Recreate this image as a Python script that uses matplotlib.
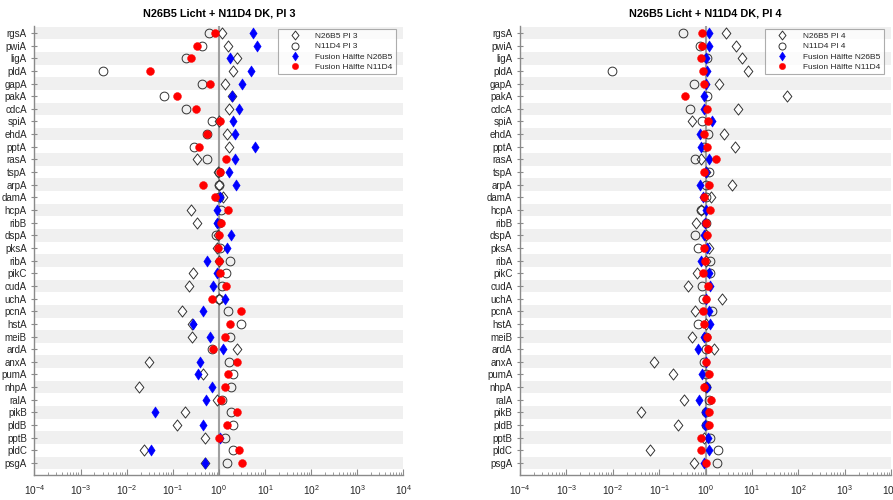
import matplotlib
matplotlib.use("Agg")
import matplotlib.pyplot as plt
from matplotlib.path import Path
import numpy as np

plt.rcParams["font.family"] = ["Liberation Sans", "DejaVu Sans"]
plt.rcParams["mathtext.fontset"] = "custom"
plt.rcParams["mathtext.rm"] = "Liberation Sans"
plt.rcParams["mathtext.it"] = "Liberation Sans:italic"

genes = ["rgsA", "pwiA", "ligA", "pldA", "gapA", "pakA", "cdcA", "spiA",
         "ehdA", "pptA", "rasA", "tspA", "arpA", "damA", "hcpA", "ribB",
         "dspA", "pksA", "ribA", "pikC", "cudA", "uchA", "pcnA", "hstA",
         "meiB", "ardA", "anxA", "pumA", "nhpA", "ralA", "pikB", "pldB",
         "pptB", "pldC", "psgA"]

# Pl 3
pl3_n26b5 = [1.17, 1.58, 2.5, 2.0, 1.38, 1.9, 1.69, 1.0, 1.48, 1.64, 0.34,
             0.93, 1.0, 1.25, 0.25, 0.34, 0.95, 0.9, 1.0, 0.28, 0.22, 1.0,
             0.155, 0.26, 0.26, 2.44, 0.031, 0.45, 0.0185, 0.9, 0.18, 0.126,
             0.51, 0.024, 0.49]
pl3_n11d4 = [0.62, 0.43, 0.19, 0.0031, 0.42, 0.065, 0.19, 0.71, 0.55, 0.29,
             0.56, 1.0, 1.0, 1.0, 1.1, 1.0, 0.87, 1.03, 1.75, 1.43, 1.17, 1.0,
             1.58, 2.97, 1.75, 0.69, 1.64, 2.06, 1.8, 1.15, 1.8, 2.0, 1.34,
             2.0, 1.53]
pl3_fus_n26b5 = [5.6, 6.6, 1.75, 5.0, 3.2, 1.93, 2.7, 2.0, 2.2, 6.0, 2.2,
                 1.64, 2.36, 1.06, 0.9, 0.9, 1.8, 1.48, 0.55, 0.9, 0.76, 1.38,
                 0.45, 0.28, 0.65, 1.25, 0.38, 0.355, 0.69, 0.53, 0.041, 0.46,
                 1.06, 0.034, 0.49]
pl3_fus_n11d4 = [0.84, 0.34, 0.25, 0.032, 0.65, 0.123, 0.31, 1.06, 0.55, 0.37,
                 1.43, 1.03, 0.45, 0.81, 1.58, 1.13, 1.0, 0.93, 1.0, 1.06,
                 1.43, 0.71, 2.97, 1.75, 1.34, 0.76, 2.5, 1.58, 1.34, 1.1, 2.5,
                 1.53, 1.0, 2.7, 3.2]

# Pl 4
pl4_n26b5 = [2.75, 4.5, 6.1, 8.2, 1.97, 57, 5.1, 0.52, 2.5, 4.4, 0.81, 1.0,
             3.7, 1.32, 0.78, 0.62, 1.0, 1.16, 1.0, 0.64, 0.42, 2.25, 0.58,
             1.0, 0.51, 1.56, 0.077, 0.195, 1.0, 0.35, 0.041, 0.25, 0.92,
             0.063, 0.56]
pl4_n11d4 = [0.33, 0.76, 1.08, 0.0096, 0.56, 1.08, 0.46, 0.86, 1.12, 0.95,
             0.6, 1.16, 1.0, 1.0, 0.78, 1.0, 0.6, 0.68, 1.28, 1.28, 0.86, 0.89,
             1.37, 0.7, 1.0, 1.0, 0.92, 1.0, 1.0, 1.2, 1.0, 1.0, 1.28, 1.9,
             1.73]
pl4_fus_n26b5 = [1.16, 1.16, 1.0, 1.08, 1.05, 0.92, 0.92, 1.37, 0.75, 0.81,
                 1.2, 1.0, 0.75, 0.89, 1.0, 0.98, 0.95, 1.08, 0.81, 1.16, 1.24,
                 1.0, 1.16, 1.24, 0.92, 0.68, 1.0, 0.83, 1.08, 0.71, 0.98,
                 0.98, 1.12, 1.2, 0.92]
pl4_fus_n11d4 = [0.86, 0.86, 0.78, 0.89, 0.95, 0.36, 1.08, 1.12, 0.92, 1.08,
                 1.67, 0.95, 1.16, 0.95, 1.24, 1.05, 1.08, 0.95, 0.98, 0.89,
                 1.12, 1.0, 0.89, 0.95, 1.08, 1.12, 1.0, 1.2, 0.95, 1.32, 1.16,
                 1.16, 0.81, 0.81, 1.05]

panels = [
    ("N26B5 Licht + N11D4 DK, Pl 3", "Pl 3",
     pl3_n26b5, pl3_n11d4, pl3_fus_n26b5, pl3_fus_n11d4),
    ("N26B5 Licht + N11D4 DK, Pl 4", "Pl 4",
     pl4_n26b5, pl4_n11d4, pl4_fus_n26b5, pl4_fus_n11d4),
]


def diamond(ratio):
    # diamond marker, width = ratio * height
    return Path([(0, 1), (ratio, 0), (0, -1), (-ratio, 0), (0, 1)],
                [Path.MOVETO, Path.LINETO, Path.LINETO, Path.LINETO,
                 Path.CLOSEPOLY])


OPEN_D = diamond(0.78)
FILL_D = diamond(0.66)

AX_GREY = "#8a8a8a"
TXT = "#262626"

fig = plt.figure(figsize=(8.93, 5.0), dpi=100)
rects = [[0.0386, 0.05, 0.4132, 0.898], [0.5823, 0.05, 0.4155, 0.898]]

ypos = np.arange(1, len(genes) + 1)

for rect, (title, pl, n26, n11, f26, f11) in zip(rects, panels):
    ax = fig.add_axes(rect)
    # alternating row shading
    for i in ypos[::2]:
        ax.axhspan(i - 0.5, i + 0.5, color="#f0f0f0", lw=0, zorder=0)
    ax.axvline(1, color="#a0a0a0", lw=1.5, zorder=1)

    ax.plot(n26, ypos, ls="none", marker=OPEN_D, ms=8, mfc="white",
            mec="#333333", mew=0.7, zorder=2, label=f"N26B5 {pl}")
    ax.plot(n11, ypos, ls="none", marker="o", ms=6.3, mfc="none",
            mec="#333333", mew=0.7, zorder=3, label=f"N11D4 {pl}")
    ax.plot(f26, ypos, ls="none", marker=FILL_D, ms=8, mfc="blue",
            mec="blue", mew=0.4, zorder=4, label="Fusion Hälfte N26B5")
    ax.plot(f11, ypos, ls="none", marker="o", ms=5.7, mfc="red",
            mec="red", mew=0.3, zorder=5, label="Fusion Hälfte N11D4")

    ax.set_xscale("log")
    ax.set_xlim(1e-4, 1e4)
    ax.set_ylim(35.95, 0.45)
    ax.set_yticks(ypos)
    ax.set_yticklabels(genes)
    ax.set_xticks([10.0 ** k for k in range(-4, 5)])
    ax.xaxis.set_minor_locator(matplotlib.ticker.LogLocator(
        base=10, subs=np.arange(2, 10), numticks=20))

    for side in ("top", "right"):
        ax.spines[side].set_visible(False)
    for side in ("left", "bottom"):
        ax.spines[side].set_color(AX_GREY)
        ax.spines[side].set_linewidth(1.0)
    ax.tick_params(axis="x", which="major", direction="in", length=4,
                   color=AX_GREY, labelsize=7.3, labelcolor=TXT, pad=6)
    ax.tick_params(axis="x", which="minor", direction="in", length=2.2,
                   color=AX_GREY)
    ax.tick_params(axis="y", which="major", direction="inout", length=5,
                   color=AX_GREY, labelsize=7.0, labelcolor=TXT, pad=3)
    ax.set_title(title, fontsize=7.8, fontweight="bold", color="black", pad=7)

    leg = ax.legend(loc="upper right", bbox_to_anchor=(0.98, 0.993),
                    borderaxespad=0, fontsize=6.0, frameon=True,
                    fancybox=False, markerscale=0.8, handletextpad=0.9,
                    borderpad=0.4, labelspacing=0.28, handlelength=3.2)
    leg.get_frame().set_edgecolor("#999999")
    leg.get_frame().set_linewidth(0.8)
    for t in leg.get_texts():
        t.set_color(TXT)

fig.savefig("out.png", dpi=100)
